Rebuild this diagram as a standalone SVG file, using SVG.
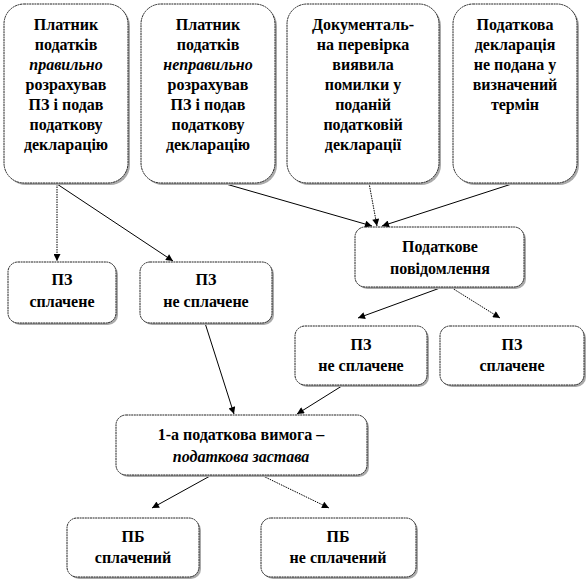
<svg xmlns="http://www.w3.org/2000/svg" width="587" height="581" viewBox="0 0 587 581">
<defs>
<style>
.box{fill:#fff;stroke:#222;stroke-width:1;stroke-dasharray:2 0.6}
.sh{fill:#aaa}
.t text{font-family:"Times New Roman","Liberation Serif",serif;font-size:16px;font-weight:bold;fill:#000;text-anchor:middle}
.t .it{font-style:italic}
.ln{stroke:#000;stroke-width:1;fill:none;marker-end:url(#ah)}
.dot{stroke-dasharray:1.5 1}
</style>
<marker id="ah" viewBox="0 0 10 10" refX="10" refY="5" markerWidth="9" markerHeight="7" markerUnits="userSpaceOnUse" orient="auto">
<path d="M0,0 L10,5 L0,10 z" fill="#000"/>
</marker>
</defs>
<rect width="587" height="581" fill="#fff"/>
<g id="connectors">
<line class="ln dot" x1="57" y1="184" x2="57" y2="261"/>
<line class="ln" x1="57" y1="184" x2="173" y2="261"/>
<line class="ln" x1="212" y1="180" x2="372" y2="226"/>
<line class="ln dot" x1="369" y1="183" x2="377" y2="226"/>
<line class="ln" x1="524" y1="180" x2="382" y2="226"/>
<line class="ln" x1="440" y1="288" x2="358" y2="318"/>
<line class="ln dot" x1="452" y1="288" x2="500" y2="318"/>
<line class="ln" x1="205" y1="323" x2="234" y2="414"/>
<line class="ln" x1="345" y1="384" x2="297" y2="414"/>
<line class="ln" x1="210" y1="476" x2="152" y2="508"/>
<line class="ln dot" x1="263" y1="476" x2="329" y2="508"/>
</g>
<g class="t">
<g id="n1">
<rect class="sh" x="6" y="6" width="124" height="179" rx="20"/>
<rect class="box" x="4" y="4" width="124" height="179" rx="20"/>
<text x="66" y="30">Платник</text>
<text x="66" y="50">податків</text>
<text x="66" y="70" class="it">правильно</text>
<text x="66" y="90">розрахував</text>
<text x="66" y="110">ПЗ і подав</text>
<text x="66" y="130">податкову</text>
<text x="66" y="150">декларацію</text>
</g>
<g id="n2">
<rect class="sh" x="143" y="6" width="134" height="179" rx="20"/>
<rect class="box" x="141" y="4" width="134" height="179" rx="20"/>
<text x="208" y="30">Платник</text>
<text x="208" y="50">податків</text>
<text x="208" y="70" class="it">неправильно</text>
<text x="208" y="90">розрахував</text>
<text x="208" y="110">ПЗ і подав</text>
<text x="208" y="130">податкову</text>
<text x="208" y="150">декларацію</text>
</g>
<g id="n3">
<rect class="sh" x="289" y="6" width="152" height="179" rx="20"/>
<rect class="box" x="287" y="4" width="152" height="179" rx="20"/>
<text x="363" y="30">Документаль-</text>
<text x="363" y="50">на перевірка</text>
<text x="363" y="70">виявила</text>
<text x="363" y="90">помилки у</text>
<text x="363" y="110">поданій</text>
<text x="363" y="130">податковій</text>
<text x="363" y="150">декларації</text>
</g>
<g id="n4">
<rect class="sh" x="455" y="6" width="124" height="179" rx="20"/>
<rect class="box" x="453" y="4" width="124" height="179" rx="20"/>
<text x="515" y="30">Податкова</text>
<text x="515" y="50">декларація</text>
<text x="515" y="70">не подана у</text>
<text x="515" y="90">визначений</text>
<text x="515" y="110">термін</text>
</g>
<g id="n5">
<rect class="sh" x="10" y="264" width="108" height="61" rx="10"/>
<rect class="box" x="8" y="262" width="108" height="61" rx="10"/>
<text x="62" y="285">ПЗ</text>
<text x="62" y="307">сплачене</text>
</g>
<g id="n6">
<rect class="sh" x="142" y="264" width="132" height="61" rx="10"/>
<rect class="box" x="140" y="262" width="132" height="61" rx="10"/>
<text x="206" y="285">ПЗ</text>
<text x="206" y="307">не сплачене</text>
</g>
<g id="n7">
<rect class="sh" x="357" y="229" width="169" height="60" rx="10"/>
<rect class="box" x="355" y="227" width="169" height="60" rx="10"/>
<text x="440" y="252">Податкове</text>
<text x="440" y="274">повідомлення</text>
</g>
<g id="n8">
<rect class="sh" x="297" y="328" width="132" height="59" rx="10"/>
<rect class="box" x="295" y="326" width="132" height="59" rx="10"/>
<text x="361" y="350">ПЗ</text>
<text x="361" y="371">не сплачене</text>
</g>
<g id="n9">
<rect class="sh" x="442" y="328" width="144" height="59" rx="10"/>
<rect class="box" x="440" y="326" width="144" height="59" rx="10"/>
<text x="512" y="350">ПЗ</text>
<text x="512" y="371">сплачене</text>
</g>
<g id="n10">
<rect class="sh" x="118" y="417" width="251" height="60" rx="10"/>
<rect class="box" x="116" y="415" width="251" height="60" rx="10"/>
<text x="241" y="440">1-а податкова вимога –</text>
<text x="241" y="462" class="it">податкова застава</text>
</g>
<g id="n11">
<rect class="sh" x="69" y="520" width="132" height="59" rx="10"/>
<rect class="box" x="67" y="518" width="132" height="59" rx="10"/>
<text x="133" y="542">ПБ</text>
<text x="133" y="563">сплачений</text>
</g>
<g id="n12">
<rect class="sh" x="263" y="520" width="155" height="59" rx="10"/>
<rect class="box" x="261" y="518" width="155" height="59" rx="10"/>
<text x="338" y="542">ПБ</text>
<text x="338" y="563">не сплачений</text>
</g>
</g>
</svg>
